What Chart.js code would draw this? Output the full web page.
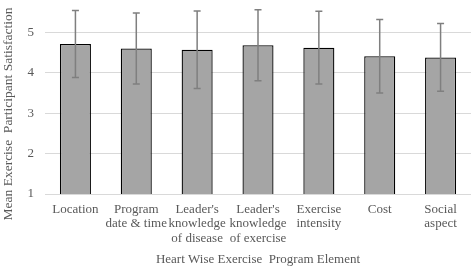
<!DOCTYPE html>
<html>
<head>
<meta charset="utf-8">
<script src="https://cdn.jsdelivr.net/npm/chart.js@4"></script>
<style>
  html, body { margin: 0; padding: 0; background: #fff; }
  canvas { display: block; }
</style>
</head>
<body>
<canvas id="chart" width="472" height="267"></canvas>
<script>
// Chart data
const categories = [
  ["Location"],
  ["Program", "date & time"],
  ["Leader's", "knowledge", "of disease"],
  ["Leader's", "knowledge", "of exercise"],
  ["Exercise", "intensity"],
  ["Cost"],
  ["Social", "aspect"]
];
const means = [4.71, 4.60, 4.57, 4.68, 4.62, 4.41, 4.38];
const sds = [0.83, 0.88, 0.96, 0.88, 0.90, 0.91, 0.84];
const yTicks = [1, 2, 3, 4, 5];

const textColor = "#595959";
const serif = "'Liberation Serif', 'Times New Roman', serif";

// Error bars drawn from means and sds
const errorBars = {
  id: "errorBars",
  afterDatasetsDraw(chart) {
    const ctx = chart.ctx;
    const y = chart.scales.y;
    const meta = chart.getDatasetMeta(0);
    ctx.save();
    ctx.strokeStyle = "#7f7f7f";
    ctx.lineWidth = 1.5;
    meta.data.forEach((bar, i) => {
      const top = y.getPixelForValue(means[i] + sds[i]);
      const bottom = y.getPixelForValue(means[i] - sds[i]);
      const x = bar.x;
      ctx.beginPath();
      ctx.moveTo(x, top);
      ctx.lineTo(x, bottom);
      ctx.moveTo(x - 3.5, top);
      ctx.lineTo(x + 3.5, top);
      ctx.moveTo(x - 3.5, bottom);
      ctx.lineTo(x + 3.5, bottom);
      ctx.stroke();
    });
    ctx.restore();
  }
};

// Y axis title, placed a little below the axis centre like the original
const yTitle = {
  id: "yTitle",
  afterDraw(chart) {
    const ctx = chart.ctx;
    ctx.save();
    ctx.translate(8, 114);
    ctx.rotate(-Math.PI / 2);
    ctx.font = "13.5px " + serif;
    ctx.fillStyle = textColor;
    ctx.textAlign = "center";
    ctx.textBaseline = "middle";
    ctx.fillText("Mean Exercise  Participant Satisfaction", 0, 0);
    ctx.restore();
  }
};

new Chart(document.getElementById("chart"), {
  type: "bar",
  data: {
    labels: categories,
    datasets: [
      {
        data: means,
        backgroundColor: "#a5a5a5",
        borderColor: "#000",
        borderWidth: 1.3,
        categoryPercentage: 1,
        barPercentage: 0.51
      }
    ]
  },
  options: {
    responsive: false,
    animation: false,
    devicePixelRatio: 1,
    layout: { padding: { left: 0, right: 1, top: 0, bottom: 0 } },
    plugins: {
      legend: { display: false },
      tooltip: { enabled: false }
    },
    scales: {
      x: {
        grid: { display: false, drawTicks: false },
        border: { display: false },
        ticks: {
          color: textColor,
          font: { family: serif, size: 13, lineHeight: 1.08 },
          padding: 9,
          maxRotation: 0,
          autoSkip: false
        },
        title: {
          display: true,
          text: "Heart Wise Exercise  Program Element",
          color: textColor,
          font: { family: serif, size: 13 },
          padding: 0
        },
        afterFit(scale) {
          scale.height = 73;
          scale.paddingLeft = 0;
          scale.paddingRight = 0;
        }
      },
      y: {
        min: 1,
        max: 5.8,
        grid: { color: "#d9d9d9", lineWidth: 1, drawTicks: false },
        border: { display: false },
        ticks: {
          stepSize: 1,
          color: textColor,
          font: { family: serif, size: 13 },
          padding: 11
        },
        afterBuildTicks(scale) {
          scale.ticks = yTicks.map(v => ({ value: v }));
        },
        afterFit(scale) {
          scale.width = 45;
          scale.paddingTop = 0;
          scale.paddingBottom = 0;
        }
      }
    }
  },
  plugins: [errorBars, yTitle]
});
</script>
</body>
</html>
